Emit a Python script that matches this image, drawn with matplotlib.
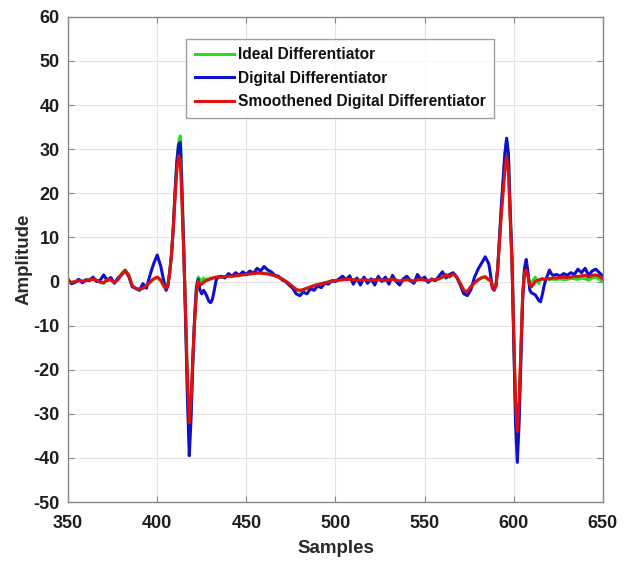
import numpy as np
import matplotlib
matplotlib.use("Agg")
import matplotlib.pyplot as plt

plt.rcParams['font.family'] = ['Liberation Sans', 'DejaVu Sans']
plt.rcParams['font.weight'] = 'bold'
plt.rcParams['axes.unicode_minus'] = False

# sample positions
samples = np.concatenate([
    np.arange(350, 405, 2),   # 350..404
    np.arange(405, 435, 1),   # 405..434
    np.arange(436, 587, 2),   # 436..586
    np.arange(587, 623, 1),   # 587..622
    np.arange(624, 651, 2),   # 624..650
])

ideal = [
    # 350..404 step 2
    0.2, -0.3, 0.0, 0.3, 0.0, 0.2, 0.5, 0.6, 0.3, -0.2, -0.4, 0.6, 0.4, -0.3,
    0.5, 1.8, 2.6, 1.6, -1.0, -1.7, -1.8, -1.6, -1.0, -0.2, 0.5, 1.0, 0.2, -1.3,
    # 405..434
    -1.6, -0.5, 2, 6, 12, 20, 27, 31.5, 33, 21, 6, -9, -25, -35, -29, -18, -9, -1,
    1, 0.5, -0.5, 0.8, 0.2, 0.6, 0.3, 0.8, 0.6, 0.9, 0.7, 1.0,
    # 436..586 step 2
    1.0, 1.1, 1.2, 1.3, 1.4, 1.5, 1.6, 1.7, 1.8, 1.9, 2.0, 2.0, 1.9, 1.8, 1.6,
    1.3, 1.0, 0.6, 0.1, -0.5, -1.2, -1.9, -2.2, -1.9, -1.6, -1.3, -1.0, -0.7,
    -0.5, -0.3, -0.1, 0.1, 0.2, 0.3, 0.4, 0.5, 0.5, 0.4, 0.2, 0.3, 0.5, 0.3,
    0.1, 0.4, 0.5, 0.3, 0.2, 0.4, 0.6, 0.3, 0.0, 0.3, 0.5, 0.2, 0.0, 0.4, 0.6,
    0.3, 0.1, 0.4, 0.3, 0.6, 1.1, 1.6, 1.0, 1.8, 1.0, -0.5, -2.2, -2.5, -1.2,
    -0.3, 0.3, 0.8, 1.0, 0.3,
    # 587..622
    0.5, -1.0, -1.6, -1.0, 3, 9.5, 16, 22, 28, 32, 28, 16, 5, -13, -30, -36, -29,
    -16, -3, 2.5, 3.2, 1.5, -0.3, -0.6, 0.4, 1.0, 0.2, -0.4, 0.3, 0.7, 0.4, 0.6,
    0.5, 0.4, 0.6, 0.5,
    # 624..650 step 2
    0.5, 0.6, 0.4, 0.5, 0.7, 0.6, 0.5, 0.8, 0.6, 0.3, 0.8, 1.0, 0.5, 0.0,
]

digital = [
    # 350..404 step 2
    0.5, -0.5, -0.2, 0.5, -0.3, 0.4, 0.2, 1.0, 0.0, 0.3, 1.5, 0.2, 0.9, -0.4,
    0.8, 1.5, 2.5, 1.2, -1.2, -1.5, -2.0, -0.5, -1.5, 1.5, 4.0, 6.0, 3.5, -0.5,
    # 405..434
    -2.0, -1.0, 2, 6, 12, 20, 27, 31, 31.5, 19, 6, -10, -27, -39.5, -31, -18, -8,
    -1.5, 0.5, -2.0, -2.8, -2.0, -2.6, -3.5, -4.5, -4.8, -4.0, -2.0, 0.2, 1.0,
    # 436..586 step 2
    1.2, 0.8, 1.8, 1.2, 2.0, 1.4, 2.2, 1.6, 2.4, 1.8, 3.0, 2.4, 3.4, 2.6, 2.2,
    1.4, 1.2, 0.4, 0.0, -0.8, -1.5, -2.8, -3.2, -2.4, -2.8, -1.6, -2.0, -1.0,
    -1.4, -0.4, -0.6, 0.2, 0.0, 0.6, 1.2, 0.4, 1.3, -0.6, 0.8, -0.8, 1.0, -0.4,
    0.6, -0.8, 1.2, 0.0, 1.0, -0.6, 1.4, 0.0, -0.8, 0.6, 1.2, 0.2, -0.4, 1.6,
    0.4, 1.0, -0.2, 0.6, 0.2, 1.2, 2.2, 0.8, 1.6, 2.0, 1.0, -0.8, -2.8, -3.2,
    -1.8, 1.0, 2.8, 4.2, 5.6, 4.0,
    # 587..622
    1.5, -1.5, -2.0, -1.0, 3, 10, 17, 23, 29, 32.5, 29, 16, 5, -14, -32, -41, -32,
    -18, -4, 3, 5, 2, -2, -2.6, -2.8, -3.0, -3.6, -4.3, -4.6, -3.0, -1.0, 0.5,
    1.5, 2.6, 1.8, 1.4,
    # 624..650 step 2
    1.6, 1.2, 1.8, 1.4, 2.0, 1.6, 2.8, 2.0, 3.0, 1.4, 2.4, 2.8, 2.0, 1.2,
]

smoothed = [
    # 350..404 step 2
    0.1, -0.2, 0.0, 0.2, 0.1, 0.2, 0.4, 0.5, 0.3, -0.1, -0.3, 0.5, 0.3, -0.2,
    0.4, 1.6, 2.4, 1.5, -0.9, -1.6, -1.7, -1.5, -0.9, -0.1, 0.6, 1.0, 0.3, -1.2,
    # 405..434
    -1.5, -0.8, 2, 6, 12, 19, 25, 28.5, 27.5, 17, 5, -8, -22, -32, -27, -17, -9,
    -2.5, 0.2, -0.8, -0.6, -0.2, 0.1, 0.3, 0.5, 0.6, 0.8, 0.9, 1.0, 1.0,
    # 436..586 step 2
    1.0, 1.1, 1.2, 1.2, 1.3, 1.4, 1.5, 1.6, 1.7, 1.8, 1.9, 1.9, 1.8, 1.7, 1.5,
    1.3, 1.0, 0.6, 0.1, -0.5, -1.1, -1.8, -2.0, -1.8, -1.5, -1.2, -0.9, -0.7,
    -0.5, -0.3, -0.1, 0.1, 0.2, 0.3, 0.4, 0.5, 0.5, 0.4, 0.3, 0.3, 0.4, 0.3,
    0.2, 0.4, 0.4, 0.3, 0.3, 0.4, 0.5, 0.3, 0.1, 0.3, 0.4, 0.3, 0.1, 0.4, 0.5,
    0.3, 0.2, 0.4, 0.4, 0.6, 1.0, 1.5, 1.1, 1.7, 1.0, -0.4, -2.0, -2.3, -1.1,
    -0.3, 0.4, 0.9, 1.1, 0.4,
    # 587..622
    0.5, -1.2, -1.8, -1.0, 3, 9, 15, 20, 25, 28.3, 25, 14, 4, -12, -27, -34, -27,
    -15, -3, 2, 2.6, 1.0, -0.8, -1.2, -0.6, 0.0, 0.2, 0.4, 0.5, 0.6, 0.5, 0.6,
    0.7, 0.6, 0.7, 0.8,
    # 624..650 step 2
    0.8, 0.9, 1.0, 0.9, 1.0, 1.2, 1.1, 1.3, 1.4, 1.0, 1.4, 1.5, 1.2, 0.6,
]

labels = ['Ideal Differentiator', 'Digital Differentiator',
          'Smoothened Digital Differentiator']
colors = ['#22dd22', '#1010cc', '#dd1111']

x_ticks = [350, 400, 450, 500, 550, 600, 650]
y_ticks = [-50, -40, -30, -20, -10, 0, 10, 20, 30, 40, 50, 60]

fig = plt.figure(figsize=(6.30, 5.61), dpi=100)
ax = fig.add_axes([0.108, 0.105, 0.849, 0.865])

for series, lab, col in zip([ideal, digital, smoothed], labels, colors):
    ax.plot(samples, series, color=col, lw=2.2, label=lab)

ax.set_xlim(350, 650)
ax.set_ylim(-50, 60)
ax.set_xticks(x_ticks)
ax.set_yticks(y_ticks)
ax.grid(True, color='#e2e2e2', lw=0.8)
ax.set_axisbelow(True)
for s in ax.spines.values():
    s.set_color('#888888')
    s.set_linewidth(1.0)
ax.tick_params(direction='in', length=4, color='#888888', top=True, right=True,
               labelsize=13, labelcolor='#1e1e1e')
ax.tick_params(axis='x', pad=9)
ax.tick_params(axis='y', pad=6)
for lbl in ax.get_xticklabels() + ax.get_yticklabels():
    lbl.set_fontweight('bold')

ax.set_xlabel('Samples', fontsize=13.5, fontweight='bold', color='#2a2a2a', labelpad=6)
ax.set_ylabel('Amplitude', fontsize=13.5, fontweight='bold', color='#2a2a2a', labelpad=1)

leg = ax.legend(loc='upper left', bbox_to_anchor=(0.2205, 0.955), fontsize=11.2,
                frameon=True, fancybox=False, edgecolor='#888888',
                handlelength=2.55, handletextpad=0.25, borderpad=0.55,
                labelspacing=0.55, borderaxespad=0)
leg.get_frame().set_linewidth(1.0)
for t in leg.get_texts():
    t.set_fontweight('bold')
    t.set_color('#111111')

fig.savefig('out.png', dpi=100)
